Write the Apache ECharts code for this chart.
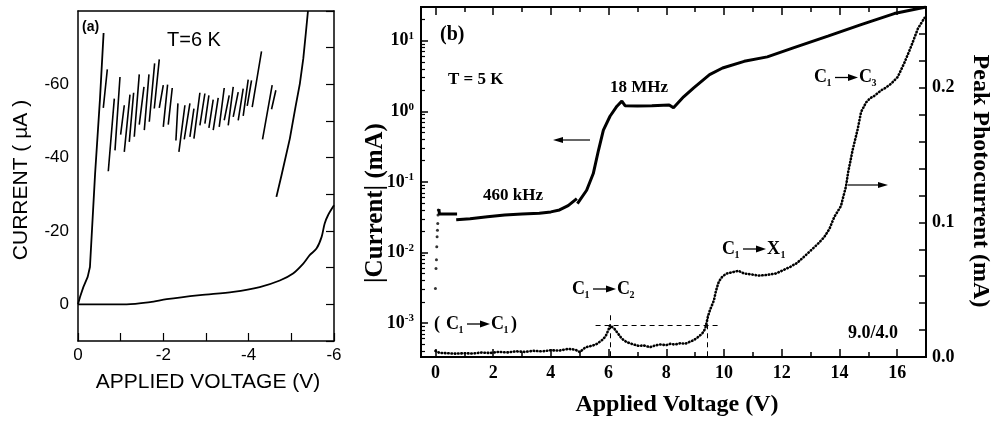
<!DOCTYPE html>
<html><head><meta charset="utf-8">
<script src="https://cdn.jsdelivr.net/npm/echarts@6/dist/echarts.min.js"></script>
<style>html,body{margin:0;padding:0;background:#fff}#c{width:991px;height:422px}</style>
</head><body><div id="c"></div>
<script>
// ---------------- Panel (a) data : voltage (V), current (uA) ----------------
const aRiseV = [0, -0.047, -0.125, -0.227, -0.28, -0.40, -0.515, -0.60];
const aRiseI = [0, -2, -4.7, -7.5, -10.2, -35.5, -56, -74];
const aRightV = [-4.65, -4.77, -4.965, -5.1, -5.2, -5.28, -5.34, -5.39];
const aRightI = [-29.3, -35.2, -45.2, -54, -60.2, -67, -74, -80];
const aLowV = [0, -0.6, -1.14, -1.69, -2.08, -2.86, -3.64, -4.26, -4.73, -5.04, -5.28, -5.43, -5.59, -5.71, -5.78, -5.86, -6.0];
const aLowI = [0, 0, 0, -0.6, -1.4, -2.5, -3.4, -4.7, -6.5, -8.4, -11.1, -13.4, -15.2, -18.4, -22, -24.3, -27];
// sawtooth segments (bottom -> top)
const sawBotV = [-0.593,-0.710,-0.867,-0.999,-1.085,-1.202,-1.319,-1.436,-1.554,-1.671,-1.788,-1.905,-1.999,-2.115,-2.295,-2.365,-2.490,-2.623,-2.717,-2.857,-2.974,-3.068,-3.169,-3.310,-3.427,-3.521,-3.638,-3.755,-3.872,-3.966,-4.083,-4.325,-4.536];
const sawBotI = [-53.6,-36.3,-42.0,-46.3,-41.6,-44.3,-45.7,-49.0,-47.5,-49.8,-53.4,-53.6,-48.4,-49.0,-44.7,-41.6,-45.0,-45.7,-45.2,-48.8,-49.3,-48.1,-47.5,-48.4,-50.2,-48.8,-51.1,-50.2,-51.4,-54.1,-53.8,-45.0,-53.2];
const sawTopV = [-0.687,-0.851,-0.984,-1.085,-1.218,-1.304,-1.436,-1.546,-1.663,-1.796,-1.905,-1.999,-2.100,-2.209,-2.342,-2.506,-2.623,-2.717,-2.857,-2.974,-3.068,-3.169,-3.286,-3.427,-3.544,-3.638,-3.755,-3.872,-3.989,-4.067,-4.301,-4.551,-4.637];
const sawTopI = [-64.1,-56.1,-62.0,-54.3,-57.2,-57.7,-62.7,-59.3,-62.7,-65.7,-66.8,-59.8,-59.9,-59.0,-54.8,-54.3,-54.8,-53.4,-57.7,-57.5,-57.0,-55.8,-56.3,-59.0,-57.0,-59.3,-57.9,-58.8,-61.3,-61.1,-69.0,-59.8,-58.4];
const aXLabels = [0, -2, -4, -6];
const aYLabels = [0, -20, -40, -60];

// ---------------- Panel (b) data ----------------
// |Current| (mA), solid line, left log axis (null = gap)
const bCurV = [0.12, 0.14, 0.75, null, 0.72, 1.2, 1.8, 2.4, 3.0, 3.6, 4.0, 4.3, 4.6, 4.9, null, 4.92, 5.24, 5.47, 5.65, 5.82, 6.05, 6.29, 6.46, 6.57, 7.0, 7.5, 8.1, 8.25, 8.6, 8.95, 9.5, 9.95, 10.7, 11.5, 12.4, 13.6, 14.75, 15.9, 17.0];
const bCurI = [0.041, 0.035, 0.035, null, 0.029, 0.030, 0.032, 0.034, 0.035, 0.036, 0.0375, 0.040, 0.046, 0.058, null, 0.049, 0.076, 0.131, 0.28, 0.54, 0.85, 1.18, 1.39, 1.2, 1.19, 1.2, 1.23, 1.12, 1.6, 2.15, 3.3, 4.1, 5.1, 5.9, 7.9, 11.6, 16.9, 24.2, 30];
// dotted current near 0 V (left log axis)
const bLowDotV = [0.0, 0.02, 0.035, 0.046, 0.058, 0.07, 0.08, 0.09, 0.1];
const bLowDotI = [0.00308, 0.0059, 0.0079, 0.012, 0.0167, 0.0207, 0.0258, 0.0339, 0.04];
// Peak photocurrent (mA), right axis
const pcV = [0.00,0.15,0.4,0.7,1.0,1.3,1.6,1.9,2.2,2.5,2.8,3.1,3.4,3.7,4.0,4.3,4.6,4.85,5.0,5.2,5.45,5.6,5.8,5.9,5.99,6.05,6.11,6.2,6.29,6.46,6.63,6.87,7.05,7.21,7.44,7.6,7.79,8.0,8.14,8.3,8.49,8.65,8.78,8.95,9.07,9.24,9.35,9.44,9.51,9.65,9.72,9.82,9.95,10.1,10.3,10.5,10.7,10.9,11.2,11.5,11.8,12.0,12.3,12.54,12.8,13.0,13.25,13.47,13.65,13.82,14.05,14.23,14.3,14.46,14.63,14.75,14.92,15.05,15.21,15.44,15.6,15.79,16.02,16.26,16.49,16.72,16.95];
const pcI = [0.0045,0.0030,0.0028,0.0025,0.0028,0.0026,0.0033,0.0030,0.0038,0.0034,0.0042,0.0038,0.0046,0.0042,0.0050,0.0048,0.0060,0.0055,0.0036,0.0072,0.0085,0.0098,0.0130,0.0155,0.0198,0.0235,0.0243,0.021,0.0185,0.0136,0.0110,0.0093,0.0082,0.0086,0.0073,0.0085,0.0093,0.0088,0.0098,0.0092,0.0103,0.0098,0.0110,0.0125,0.0143,0.0173,0.021,0.0297,0.0347,0.042,0.049,0.056,0.060,0.062,0.063,0.064,0.062,0.0615,0.0605,0.061,0.062,0.064,0.067,0.070,0.075,0.079,0.084,0.089,0.095,0.104,0.112,0.127,0.137,0.154,0.169,0.182,0.189,0.192,0.194,0.198,0.200,0.203,0.208,0.219,0.231,0.244,0.252];
// dashed guide lines (V, mA on right axis)
const guideH = {y: 0.0235, x0: 5.55, x1: 9.85};
const guideV = [6.05, 9.42];
const guideVTop = 0.031;
// tick labels
const bXLabels = [0, 2, 4, 6, 8, 10, 12, 14, 16];
const bXMinor = [1, 3, 5, 7, 9, 11, 13, 15, 17];
const bLogLabels = [1e-3, 1e-2, 1e-1, 1, 10];
const bRightLabels = [0, 0.1, 0.2];
const bRightTicks = [0,0.02,0.04,0.06,0.08,0.1,0.12,0.14,0.16,0.18,0.2,0.22,0.24,0.26];

// ---------------- build ----------------
const pairs = (xs, ys) => xs.map((x, i) => (x === null ? [null, '-'] : [x, ys[i]]));
const sawData = [];
sawBotV.forEach((v, i) => { sawData.push([v, sawBotI[i]], [sawTopV[i], sawTopI[i]], [sawTopV[i], '-']); });
const bCurData = bCurV.map((x, i) => (x === null ? [bCurV[i-1], '-'] : [x, bCurI[i]]));
const logMinor = [];
for (let e = -4; e <= 1; e++) for (let m = 2; m <= 9; m++) { const v = m * Math.pow(10, e); if (v > 3.3e-4 && v < 30) logMinor.push(v); }

const SANS = 'Liberation Sans';
const SERIF = 'Liberation Serif';
const aLine = {onZero: false, lineStyle: {color: '#000', width: 1.5}};
const bLine = {onZero: false, lineStyle: {color: '#000', width: 2}};

function txt(x, y, text, size, opt) {
  opt = opt || {};
  return {type: 'text', x: x, y: y, rotation: opt.rot || 0, z: 100,
    style: {text: text, fill: '#000', font: (opt.weight || 'bold') + ' ' + size + 'px "' + (opt.family || SERIF) + '"',
      textAlign: opt.align || 'left', textVerticalAlign: 'middle', align: opt.align || 'left', verticalAlign: 'middle'}};
}
function arrowEls(x1, x2, y, headLeft) {
  const hx = headLeft ? x1 : x2, d = headLeft ? 10 : -10;
  return [
    {type: 'line', z: 100, shape: {x1: headLeft ? x1 + 8 : x1, y1: y, x2: headLeft ? x2 : x2 - 8, y2: y}, style: {stroke: '#000', lineWidth: 1.2}},
    {type: 'polygon', z: 100, shape: {points: [[hx, y], [hx + d, y - 3], [hx + d, y + 3]]}, style: {fill: '#000'}}
  ];
}
function trans(x, cy, a, as, b, bs) {
  const wb = b === 'X' ? 13.5 : 12.5;
  return [
    txt(x, cy, a, 18), txt(x + 12.5, cy + 6, as, 10),
    {type: 'line', z: 100, shape: {x1: x + 21, y1: cy, x2: x + 36, y2: cy}, style: {stroke: '#000', lineWidth: 1.3}},
    {type: 'polygon', z: 100, shape: {points: [[x + 44, cy], [x + 34, cy - 3.5], [x + 34, cy + 3.5]]}, style: {fill: '#000'}},
    txt(x + 45, cy, b, 18), txt(x + 45 + wb, cy + 6, bs, 10)
  ];
}

const graphics = [].concat(
  [txt(82, 27, '(a)', 14, {family: SANS}),
   txt(167, 40, 'T=6 K', 20, {family: SANS, weight: 'normal'}),
   txt(208, 382, 'APPLIED VOLTAGE (V)', 21, {family: SANS, weight: 'normal', align: 'center'}),
   txt(21, 180, 'CURRENT ( \u00b5A )', 21, {family: SANS, weight: 'normal', align: 'center', rot: Math.PI / 2}),
   txt(440, 35, '(b)', 20),
   txt(448, 80, 'T = 5 K', 17),
   txt(610, 88, '18 MHz', 17),
   txt(483, 196, '460 kHz', 17),
   txt(848, 333, '9.0/4.0', 18),
   txt(434, 324, '(', 18), txt(511, 324, ')', 18),
   txt(677, 405, 'Applied Voltage (V)', 24, {align: 'center'}),
   txt(376, 203, '|Current| (mA)', 25, {align: 'center', rot: Math.PI / 2}),
   txt(980, 181, 'Peak Photocurrent (mA)', 24, {align: 'center', rot: -Math.PI / 2})],
  arrowEls(553, 590, 140, true),
  arrowEls(848, 888, 185, false),
  trans(814, 77.5, 'C', '1', 'C', '3'),
  trans(722, 249, 'C', '1', 'X', '1'),
  trans(572, 289, 'C', '1', 'C', '2'),
  trans(446, 324, 'C', '1', 'C', '1')
);

const none = {show: false};
const option = {
  animation: false,
  backgroundColor: '#fff',
  grid: [
    {left: 78, top: 11, width: 256, height: 330},
    {left: 421, top: 7, width: 505, height: 350}
  ],
  xAxis: [
    {gridIndex: 0, type: 'value', min: -6, max: 0, interval: 1, inverse: true, position: 'bottom',
     axisLine: aLine, splitLine: none,
     axisTick: {inside: true, length: 8, lineStyle: {color: '#000', width: 1.2}},
     axisLabel: {color: '#000', fontFamily: SANS, fontSize: 17, margin: 6,
       formatter: v => (aXLabels.includes(v) ? String(v) : '')}},
    {gridIndex: 0, type: 'value', min: -6, max: 0, inverse: true, position: 'top',
     axisLine: aLine, splitLine: none, axisTick: none, axisLabel: none},
    {gridIndex: 1, type: 'value', min: -0.5, max: 17, position: 'bottom',
     axisLine: bLine, splitLine: none,
     axisTick: {inside: true, length: 8, customValues: bXLabels, lineStyle: {color: '#000', width: 1.5}},
     axisLabel: {customValues: bXLabels, color: '#000', fontFamily: SERIF, fontWeight: 'bold', fontSize: 18, margin: 7}},
    {gridIndex: 1, type: 'value', min: -0.5, max: 17, position: 'bottom',
     axisLine: bLine, splitLine: none,
     axisTick: {inside: true, length: 5, customValues: bXMinor, lineStyle: {color: '#000', width: 1.5}},
     axisLabel: none},
    {gridIndex: 1, type: 'value', min: -0.5, max: 17, position: 'top',
     axisLine: bLine, splitLine: none,
     axisTick: {inside: true, length: 8, customValues: bXLabels, lineStyle: {color: '#000', width: 1.5}},
     axisLabel: none},
    {gridIndex: 1, type: 'value', min: -0.5, max: 17, position: 'top',
     axisLine: bLine, splitLine: none,
     axisTick: {inside: true, length: 5, customValues: bXMinor, lineStyle: {color: '#000', width: 1.5}},
     axisLabel: none}
  ],
  yAxis: [
    {gridIndex: 0, type: 'value', min: -80, max: 10, interval: 10, inverse: true, position: 'left',
     axisLine: aLine, splitLine: none, axisTick: none,
     axisLabel: {color: '#000', fontFamily: SANS, fontSize: 17, margin: 9,
       formatter: v => (aYLabels.includes(v) ? String(v) : '')}},
    {gridIndex: 0, type: 'value', min: -80, max: 10, interval: 10, inverse: true, position: 'right',
     axisLine: aLine, splitLine: none,
     axisTick: {inside: true, length: 8, lineStyle: {color: '#000', width: 1.2}}, axisLabel: none},
    {gridIndex: 1, type: 'log', logBase: 10, min: 3.3e-4, max: 30, position: 'left',
     axisLine: bLine, splitLine: none,
     axisTick: {inside: true, length: 7, customValues: bLogLabels, lineStyle: {color: '#000', width: 1.5}},
     axisLabel: {customValues: bLogLabels, color: '#000', margin: 7,
       formatter: v => '{b|10}{e|' + Math.round(Math.log10(v)) + '}',
       rich: {b: {fontFamily: SERIF, fontWeight: 'bold', fontSize: 18, color: '#000', lineHeight: 20},
              e: {fontFamily: SERIF, fontWeight: 'bold', fontSize: 11, color: '#000', verticalAlign: 'top', lineHeight: 20}}}},
    {gridIndex: 1, type: 'log', logBase: 10, min: 3.3e-4, max: 30, position: 'left',
     axisLine: bLine, splitLine: none,
     axisTick: {inside: true, length: 4, customValues: logMinor, lineStyle: {color: '#000', width: 1.2}},
     axisLabel: none},
    {gridIndex: 1, type: 'value', min: 0, max: 0.26, position: 'right',
     axisLine: bLine, splitLine: none,
     axisTick: {inside: true, length: 7, customValues: bRightTicks, lineStyle: {color: '#000', width: 1.5}},
     axisLabel: {customValues: bRightLabels, color: '#000', fontFamily: SERIF, fontWeight: 'bold', fontSize: 18, margin: 6,
       formatter: v => v.toFixed(1)}}
  ],
  series: [
    {type: 'line', xAxisIndex: 0, yAxisIndex: 0, data: pairs(aRiseV, aRiseI), showSymbol: false, lineStyle: {color: '#000', width: 1.8}},
    {type: 'line', xAxisIndex: 0, yAxisIndex: 0, data: pairs(aRightV, aRightI), showSymbol: false, lineStyle: {color: '#000', width: 1.8}},
    {type: 'line', xAxisIndex: 0, yAxisIndex: 0, data: pairs(aLowV, aLowI), showSymbol: false, smooth: 0.3, lineStyle: {color: '#000', width: 1.8}},
    {type: 'line', xAxisIndex: 0, yAxisIndex: 0, data: sawData, showSymbol: false, connectNulls: false, lineStyle: {color: '#000', width: 1.6}},
    {type: 'line', xAxisIndex: 2, yAxisIndex: 2, data: bCurData, showSymbol: false, connectNulls: false, lineStyle: {color: '#000', width: 3}},
    {type: 'scatter', xAxisIndex: 2, yAxisIndex: 2, data: pairs(bLowDotV, bLowDotI), symbolSize: 3, itemStyle: {color: '#000'}},
    {type: 'line', xAxisIndex: 2, yAxisIndex: 4, data: pairs(pcV, pcI), showSymbol: false,
     lineStyle: {color: '#000', width: 2.6, type: [0.5, 2.8], cap: 'round'},
     markLine: {silent: true, symbol: 'none', label: none,
       lineStyle: {color: '#000', width: 1, type: [5, 4]},
       data: [
         [{coord: [guideH.x0, guideH.y]}, {coord: [guideH.x1, guideH.y]}],
         [{coord: [guideV[0], guideVTop]}, {coord: [guideV[0], 0]}],
         [{coord: [guideV[1], guideVTop]}, {coord: [guideV[1], 0]}]
       ]}}
  ],
  graphic: graphics
};
const chart = echarts.init(document.getElementById('c'), null, {renderer: 'canvas'});
chart.setOption(option);
</script></body></html>
